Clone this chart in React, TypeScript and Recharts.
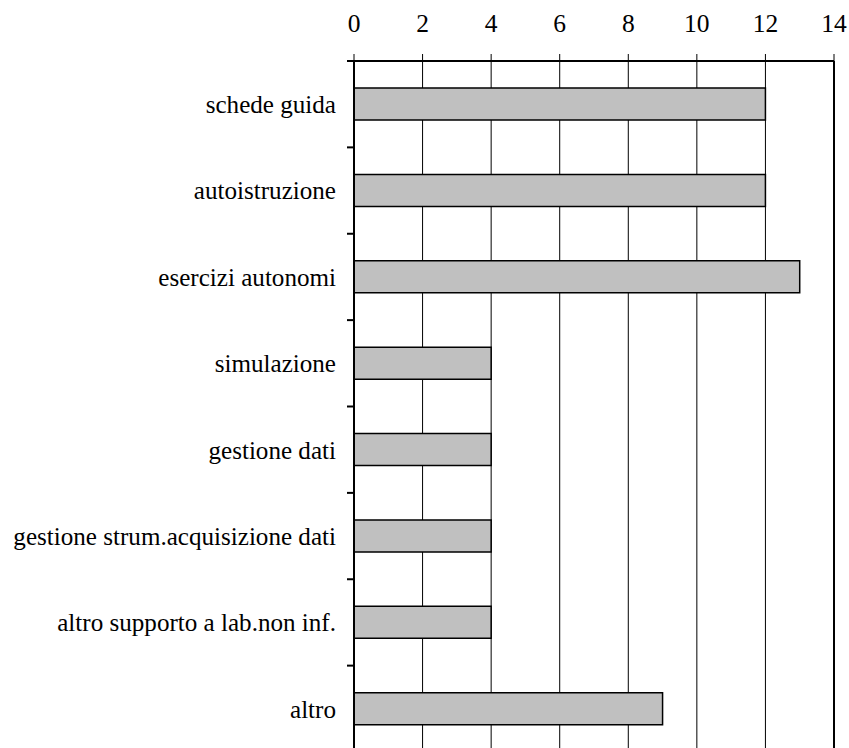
import React from 'react';
import { BarChart, Bar, XAxis, YAxis, CartesianGrid, ReferenceLine } from 'recharts';

const categories = [
  'schede guida',
  'autoistruzione',
  'esercizi autonomi',
  'simulazione',
  'gestione dati',
  'gestione strum.acquisizione dati',
  'altro supporto a lab.non inf.',
  'altro',
];
const values = [12, 12, 13, 4, 4, 4, 4, 9];
const xTicks = [0, 2, 4, 6, 8, 10, 12, 14];

const data = categories.map((name, i) => ({ name, value: values[i] }));

const FONT = '"Liberation Serif", "Times New Roman", Tinos, serif';
const FS_CAT = 25.1;
const FS_TICK = 25.5;

const CatTick = (props: any) => {
  const { x, y, payload } = props;
  const half = payload && typeof payload.offset === 'number' ? payload.offset : 0;
  return (
    <g>
      <line x1={x - 7} x2={x} y1={y - half} y2={y - half} stroke="#000" strokeWidth={2} />
      <text
        x={x - 18}
        y={y}
        dy="0.355em"
        textAnchor="end"
        fill="#000"
        style={{ fontFamily: FONT, fontSize: FS_CAT }}
      >
        {payload.value}
      </text>
    </g>
  );
};

export default function App() {
  return (
    <div
      style={{
        position: 'fixed',
        top: 0,
        left: 0,
        width: 849,
        height: 748,
        overflow: 'hidden',
        background: '#fff',
        fontFamily: FONT,
      }}
    >
      <BarChart
        width={849}
        height={752}
        data={data}
        layout="vertical"
        margin={{ top: 0, right: 15, bottom: 0, left: 0 }}
        style={{ fontFamily: FONT }}
      >
        <CartesianGrid horizontal={false} vertical={true} stroke="#000" strokeWidth={1} strokeOpacity={1} />
        <XAxis
          type="number"
          orientation="top"
          domain={[0, 14]}
          ticks={xTicks}
          interval={0}
          height={61}
          axisLine={{ stroke: '#000', strokeWidth: 2 }}
          tickLine={{ stroke: '#000', strokeWidth: 1 }}
          tickSize={7}
          tickMargin={22}
          tick={{ fill: '#000', fontSize: FS_TICK, style: { fontFamily: FONT } }}
        />
        <YAxis
          type="category"
          dataKey="name"
          width={354}
          interval={0}
          axisLine={{ stroke: '#000', strokeWidth: 2 }}
          tickLine={false}
          tickSize={0}
          tickMargin={0}
          tick={<CatTick />}
        />
        <ReferenceLine x={14} stroke="#000" strokeWidth={2} ifOverflow="extendDomain" />
        <Bar
          dataKey="value"
          fill="#C0C0C0"
          stroke="#000"
          strokeWidth={1.5}
          barSize={32}
          isAnimationActive={false}
        />
      </BarChart>
    </div>
  );
}
